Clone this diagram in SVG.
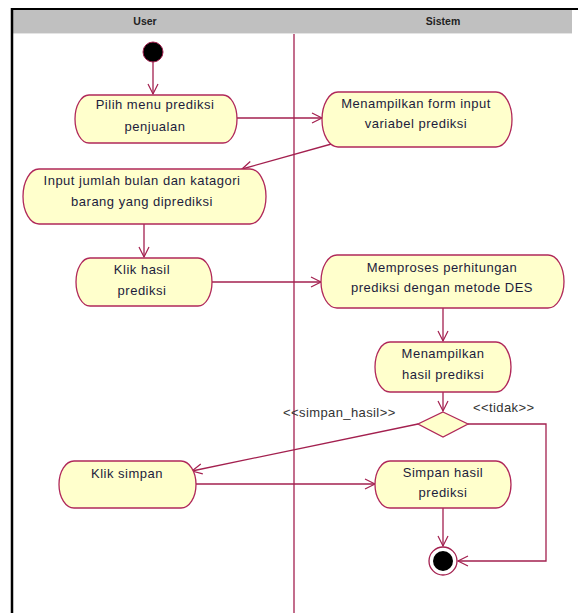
<svg xmlns="http://www.w3.org/2000/svg" width="578" height="613" viewBox="0 0 578 613">
<style>
.node{fill:#ffffcc;stroke:#b0285a;stroke-width:1.3}
.t{font-family:"Liberation Sans",Arial,sans-serif;font-size:13px;fill:#1c1c3c;text-anchor:middle;letter-spacing:0.5px}
.h{font-family:"Liberation Sans",Arial,sans-serif;font-size:10.5px;font-weight:bold;fill:#222;text-anchor:middle}
.lbl{font-family:"Liberation Sans",Arial,sans-serif;font-size:13px;fill:#333;letter-spacing:0.4px}
.c{fill:none;stroke:#a3204f;stroke-width:1.3}
</style>
<defs>
<marker id="arr" markerUnits="userSpaceOnUse" markerWidth="14" markerHeight="14" refX="11" refY="6" orient="auto">
<path d="M1,1 L11,6 L1,11" fill="none" stroke="#a3204f" stroke-width="1.2"/>
</marker>
</defs>
<rect x="0" y="0" width="578" height="613" fill="#fff"/>
<g id="frame">
<rect x="13" y="10" width="559" height="23" fill="#c0c0c0"/>
<line x1="13" y1="33.5" x2="572" y2="33.5" stroke="#e4e4e4" stroke-width="1"/>
<line x1="11" y1="9" x2="578" y2="9" stroke="#000" stroke-width="2"/>
<line x1="12" y1="8" x2="12" y2="613" stroke="#000" stroke-width="2.5"/>
<line x1="294" y1="34" x2="294" y2="613" stroke="#a3204f" stroke-width="1.3"/>
<text class="h" x="145" y="25">User</text>
<text class="h" x="443" y="25">Sistem</text>
</g>
<g id="connectors">
<line class="c" x1="153" y1="62" x2="153" y2="94" marker-end="url(#arr)"/>
<line class="c" x1="237" y1="118" x2="322" y2="118" marker-end="url(#arr)"/>
<line class="c" x1="335" y1="143" x2="242" y2="169" marker-end="url(#arr)"/>
<line class="c" x1="144" y1="224" x2="144" y2="257" marker-end="url(#arr)"/>
<line class="c" x1="212" y1="282" x2="321" y2="282" marker-end="url(#arr)"/>
<line class="c" x1="443" y1="308" x2="443" y2="341" marker-end="url(#arr)"/>
<line class="c" x1="443" y1="392" x2="443" y2="411" marker-end="url(#arr)"/>
<line class="c" x1="418" y1="424" x2="192" y2="471" marker-end="url(#arr)"/>
<polyline class="c" points="468,424 546,424 546,561 458,561" marker-end="url(#arr)"/>
<line class="c" x1="196" y1="484" x2="375" y2="484" marker-end="url(#arr)"/>
<line class="c" x1="443" y1="508" x2="443" y2="546" marker-end="url(#arr)"/>
<text class="lbl" x="283" y="417">&lt;&lt;simpan_hasil&gt;&gt;</text>
<text class="lbl" x="473" y="412">&lt;&lt;tidak&gt;&gt;</text>
</g>
<g id="start">
<circle cx="153" cy="52" r="10" fill="#000" stroke="#a3204f" stroke-width="1"/>
</g>
<g id="n_pilih">
<rect class="node" x="75" y="95" width="162" height="48" rx="14" ry="24"/>
<text class="t" x="155" y="109">Pilih menu prediksi</text>
<text class="t" x="155" y="131">penjualan</text>
</g>
<g id="n_form">
<rect class="node" x="322" y="92" width="190" height="55" rx="16" ry="27.5"/>
<text class="t" x="416" y="108">Menampilkan form input</text>
<text class="t" x="416" y="128">variabel prediksi</text>
</g>
<g id="n_input">
<rect class="node" x="23" y="169" width="243" height="55" rx="16" ry="27.5"/>
<text class="t" x="142" y="185">Input jumlah bulan dan katagori</text>
<text class="t" x="142" y="206">barang yang diprediksi</text>
</g>
<g id="n_klikhasil">
<rect class="node" x="76" y="258" width="136" height="48" rx="14" ry="24"/>
<text class="t" x="142" y="274">Klik hasil</text>
<text class="t" x="142" y="295">prediksi</text>
</g>
<g id="n_proses">
<rect class="node" x="321" y="255" width="243" height="53" rx="16" ry="26.5"/>
<text class="t" x="442" y="272">Memproses perhitungan</text>
<text class="t" x="442" y="292">prediksi dengan metode DES</text>
</g>
<g id="n_tampil">
<rect class="node" x="375" y="342" width="136" height="50" rx="15" ry="25"/>
<text class="t" x="443" y="358">Menampilkan</text>
<text class="t" x="443" y="379">hasil prediksi</text>
</g>
<g id="decision">
<polygon points="443,412 468,424 443,437 418,424" fill="#ffffcc" stroke="#b0285a" stroke-width="1.3"/>
</g>
<g id="n_klikSimpan">
<rect class="node" x="59" y="461" width="137" height="47" rx="15" ry="23.5"/>
<text class="t" x="127" y="478">Klik simpan</text>
</g>
<g id="n_simpan">
<rect class="node" x="375" y="461" width="136" height="47" rx="15" ry="23.5"/>
<text class="t" x="443" y="477">Simpan hasil</text>
<text class="t" x="443" y="497">prediksi</text>
</g>
<g id="end">
<circle cx="443" cy="561" r="14" fill="#fff" stroke="#a3204f" stroke-width="1.3"/>
<circle cx="443" cy="561" r="10" fill="#000"/>
</g>
</svg>
